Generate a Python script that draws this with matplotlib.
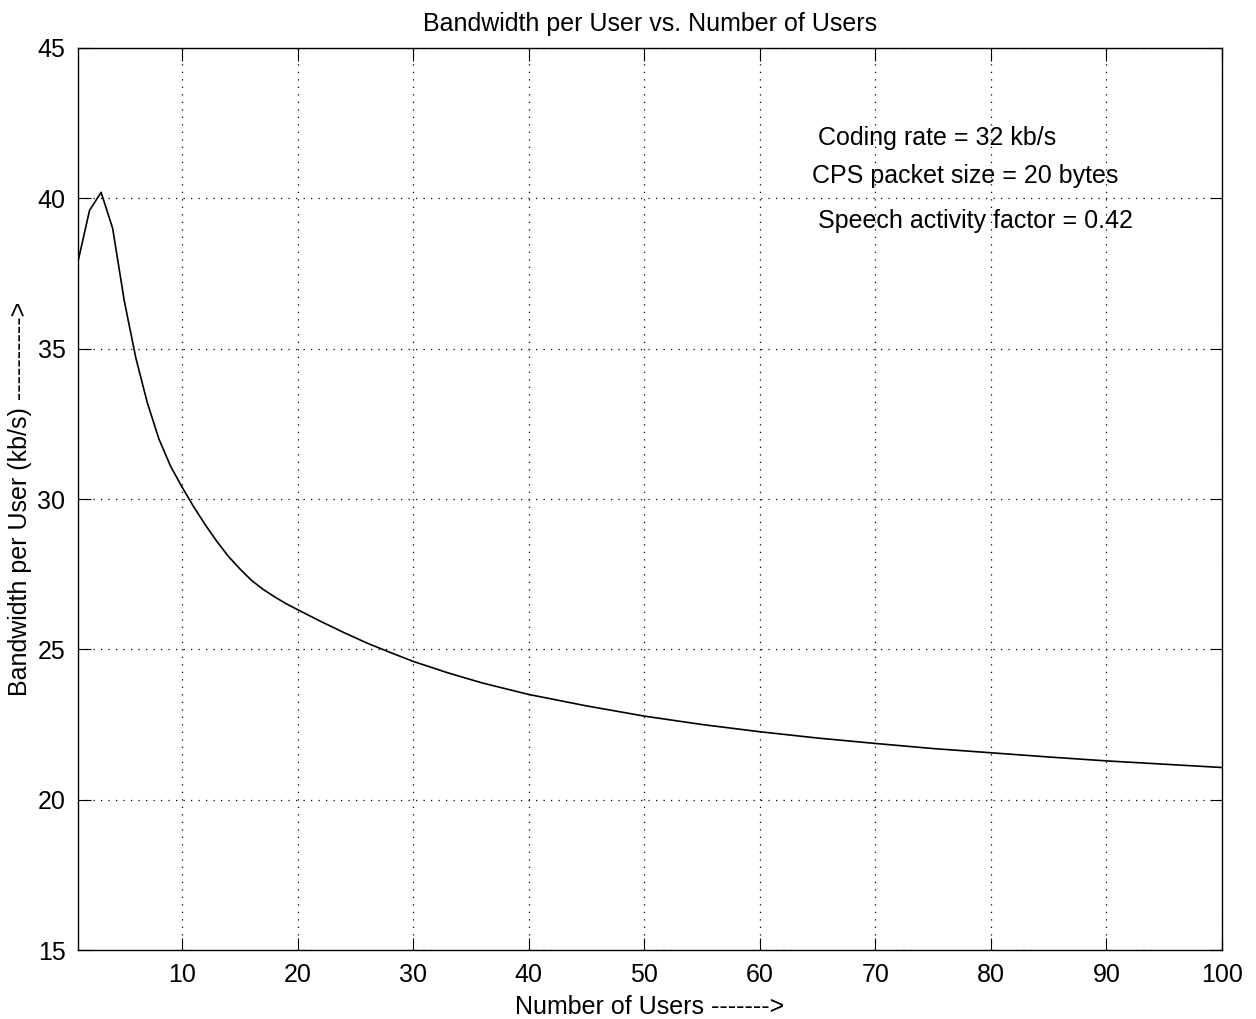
import matplotlib
matplotlib.use('Agg')
import matplotlib.pyplot as plt

# values
users = [1, 2, 3, 4, 5, 6, 7, 8, 9, 10, 11, 12, 13, 14, 15, 16, 17, 18, 19, 20,
         22, 24, 26, 28, 30, 33, 36, 40, 45, 50, 55, 60, 65, 70, 75, 80, 85, 90,
         95, 100]
bw = [37.9, 39.6, 40.2, 39.0, 36.6, 34.7, 33.2, 32.0, 31.1, 30.4, 29.75, 29.15,
      28.6, 28.1, 27.68, 27.3, 27.0, 26.75, 26.52, 26.32, 25.93, 25.56, 25.21,
      24.9, 24.6, 24.22, 23.88, 23.5, 23.12, 22.78, 22.5, 22.26, 22.05, 21.87,
      21.7, 21.56, 21.42, 21.29, 21.18, 21.07]
xticks = [10, 20, 30, 40, 50, 60, 70, 80, 90, 100]
yticks = [15, 20, 25, 30, 35, 40, 45]
notes = ['Coding rate = 32 kb/s', 'CPS packet size = 20 bytes', 'Speech activity factor = 0.42']

plt.rcParams['font.family'] = ['Liberation Sans', 'DejaVu Sans']
fig = plt.figure(figsize=(12.56, 10.19), dpi=100)
ax = fig.add_axes([0.0621, 0.0677, 0.9108, 0.8852])

ax.plot(users, bw, color='black', linewidth=1.2)
ax.set_xlim(1, 100)
ax.set_ylim(15, 45)
ax.set_xticks(xticks)
ax.set_yticks(yticks)
ax.tick_params(direction='in', length=9, width=0.8, labelsize=18,
               top=True, right=True, pad=9)
ax.grid(True, linestyle=(0, (1, 5)), color='black', linewidth=0.9)
for s in ax.spines.values():
    s.set_linewidth(1.0)

ax.set_title('Bandwidth per User vs. Number of Users', fontsize=18, pad=12)
ax.set_xlabel('Number of Users ------->', fontsize=18, labelpad=6)
ax.set_ylabel('Bandwidth per User (kb/s) ---------->', fontsize=18, labelpad=4)

ax.text(65.0, 42.0, notes[0], fontsize=18, va='center')
ax.text(64.5, 40.74, notes[1], fontsize=18, va='center')
ax.text(65.0, 39.25, notes[2], fontsize=18, va='center')

fig.savefig('out.png', dpi=100)
